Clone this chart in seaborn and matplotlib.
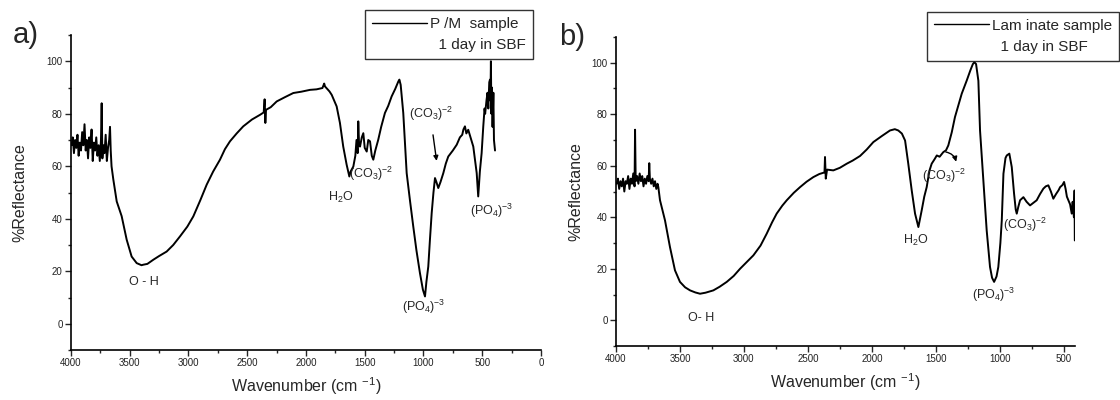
import matplotlib
matplotlib.use("Agg")
import matplotlib.pyplot as plt
from matplotlib.lines import Line2D
import seaborn as sns

# ── data ───────────────────────────────────────────────────────────────

PM_WN = [3995, 3985, 3975, 3965, 3955, 3945, 3935, 3925, 3915, 3905, 3895, 3885, 3875, 3865,
         3855, 3845, 3835, 3825, 3815, 3805, 3795, 3785, 3775, 3765, 3755, 3745, 3739, 3733,
         3725, 3715, 3705, 3695, 3685, 3675, 3668, 3662, 3655, 3640, 3611, 3569, 3526, 3484,
         3441, 3400, 3384, 3350, 3299, 3250, 3186, 3130, 3072, 3010, 2959, 2900, 2845, 2790,
         2732, 2690, 2647, 2590, 2534, 2460, 2391, 2360, 2352, 2346, 2340, 2300, 2249, 2180,
         2108, 2040, 1966, 1910, 1860, 1845, 1838, 1820, 1800, 1781, 1760, 1739, 1711, 1683,
         1654, 1631, 1620, 1597, 1580, 1570, 1560, 1555, 1548, 1540, 1525, 1512, 1500, 1483,
         1470, 1455, 1440, 1427, 1410, 1385, 1360, 1328, 1300, 1271, 1240, 1214, 1205, 1194,
         1172, 1143, 1115, 1087, 1060, 1030, 1005, 987, 975, 959, 945, 930, 915, 902, 890, 874,
         855, 831, 810, 789, 750, 717, 690, 670, 660, 647, 635, 619, 600, 576, 560, 547, 534,
         520, 505, 491, 480, 475, 463, 455, 448, 440, 434, 430, 426, 422, 418, 412, 405, 400,
         391]
PM_REFL = [68, 71, 65, 70, 67, 72, 64, 69, 66, 73, 68, 76, 66, 70,
           63, 71, 67, 74, 62, 69, 66, 71, 64, 68, 62, 70, 84, 63,
           68, 65, 72, 62, 67, 70, 75, 66, 60, 55, 46.6, 41, 32, 25.6,
           23.1, 22.3, 22.5, 22.8, 24.4, 25.8, 27.5, 30, 33.3, 37, 40.9, 47, 53, 58,
           62.5, 66.5, 69.5, 72.5, 75.2, 77.8, 79.6, 80.5, 85.5, 76.5, 81.5, 82.5, 84.7, 86.3,
           87.9, 88.4, 89.1, 89.3, 89.8, 91.5, 90.4, 89.5, 88.5, 87.2, 85, 82.8, 76.5, 67.5,
           60.6, 56.1, 58, 59.9, 64, 70, 65, 77.1, 68, 67.5, 71, 72.6, 67, 65.6,
           70, 69.5, 64, 62.5, 66, 70.1, 75, 80.3, 83, 86.6, 89.5, 92.3, 93, 91,
           80.3, 57.4, 47, 37.1, 28, 19.3, 13, 10.4, 16, 21.8, 32, 42.2, 50, 55.5, 54, 51.7,
           54, 57.4, 61, 63.7, 66, 68.2, 71, 72, 74, 75.2, 72.5, 73.9, 71, 67.5, 62, 57.4, 48.5,
           58, 65, 75.2, 82, 80, 85.3, 88, 82, 92, 93, 85, 100, 80, 90, 75, 88, 70,
           66]

LAM_WN = [3995, 3985, 3975, 3965, 3955, 3945, 3935, 3925, 3915, 3905, 3895, 3885, 3875, 3865,
          3855, 3851, 3846, 3835, 3825, 3815, 3805, 3795, 3785, 3775, 3765, 3755, 3745, 3740,
          3735, 3725, 3715, 3705, 3695, 3685, 3675, 3669, 3656, 3617, 3578, 3539, 3500, 3460,
          3421, 3380, 3343, 3300, 3239, 3190, 3134, 3080, 3030, 2980, 2926, 2870, 2822, 2780,
          2744, 2700, 2665, 2610, 2561, 2510, 2457, 2410, 2370, 2366, 2360, 2350, 2301, 2250,
          2196, 2150, 2092, 2040, 1988, 1920, 1858, 1820, 1793, 1765, 1740, 1715, 1688, 1662,
          1636, 1610, 1590, 1571, 1550, 1532, 1510, 1492, 1470, 1441, 1420, 1402, 1375, 1350,
          1320, 1297, 1258, 1230, 1210, 1198, 1185, 1167, 1154, 1128, 1102, 1076, 1060, 1044,
          1025, 1011, 995, 984, 971, 955, 945, 925, 915, 906, 888, 875, 867, 855, 841, 815,
          790, 763, 740, 711, 685, 659, 640, 620, 600, 581, 560, 540, 528, 510, 497, 485, 475,
          463, 450, 437, 430, 420, 415, 413]
LAM_REFL = [53, 55, 51, 54, 52, 55, 50, 54, 53, 56, 51, 55, 53, 57,
            52, 74, 54, 56, 53, 57, 54, 56, 52, 55, 53, 56, 54, 61,
            55, 53, 55, 52, 54, 51, 53, 51.7, 46.6, 38.8, 28.4, 19.4, 14.9, 12.8,
            11.6, 10.8, 10.3, 10.7, 11.6, 13, 14.9, 17.2, 20, 22.5, 25.2, 29, 33.6, 38,
            41.4, 44.5, 46.6, 49.5, 51.7, 53.8, 55.6, 56.8, 57.4, 63.4, 55, 58.5, 58.2, 59.2,
            60.8, 62, 63.8, 66.3, 69.2, 71.6, 73.7, 74.2, 73.7, 72.5, 69.8, 60.8, 50.4, 41.4,
            36.2, 42.7, 48, 51.7, 58, 60.8, 62.5, 64, 63.5, 65.3, 66, 67.9, 73, 78.9,
            84, 88, 93.1, 97, 99.5, 100.2, 99.5, 93, 73.7, 54.3, 34.9, 20.7, 16.5, 14.9,
            17, 20.7, 30, 38.8, 56.9, 63, 64, 64.7, 62, 59.5, 49.2, 43, 41.4, 44, 46.6, 47.8,
            46, 44.6, 45.5, 46.6, 49, 51.1, 52, 52.4, 50, 47.2, 49, 50.5, 51.7, 52.5, 53.7, 51, 48,
            46.6, 45, 41.4, 46, 40, 50.4, 31]

PANELS = ["a)", "b)"]
SAMPLES = ["P /M  sample", "Lam inate sample"]
SOAK = "1 day in SBF"
X_LABEL = "Wavenumber (cm $^{-1}$)"
Y_LABEL = "%Reflectance"

PM_NOTES = [("O - H", 3379, 16), ("H$_2$O", 1702, 48), ("(CO$_3$)$^{-2}$", 1630, 57),
            ("(CO$_3$)$^{-2}$", 1125, 80), ("(PO$_4$)$^{-3}$", 1180, 6.5), ("(PO$_4$)$^{-3}$", 600, 43)]
LAM_NOTES = [("O- H", 3336, 1), ("H$_2$O", 1654, 31), ("(CO$_3$)$^{-2}$", 1605, 56),
             ("(PO$_4$)$^{-3}$", 1219, 10), ("(CO$_3$)$^{-2}$", 978, 37)]

sns.set_style("ticks")
plt.rcParams["font.family"] = ["Liberation Sans", "DejaVu Sans"]
plt.rcParams["mathtext.fontset"] = "custom"
plt.rcParams["mathtext.rm"] = "Liberation Sans"
plt.rcParams["mathtext.it"] = "Liberation Sans"
plt.rcParams["mathtext.default"] = "regular"

fig = plt.figure(figsize=(11.2, 4), dpi=100)
ax_a = fig.add_axes([0.0634, 0.125, 0.4196, 0.7875])
ax_b = fig.add_axes([0.55, 0.135, 0.41, 0.7725])


def style_axis(ax, xlim, xticks, ypad):
    ax.set_xlim(*xlim)
    ax.set_ylim(-10, 110)
    ax.set_xticks(xticks)
    ax.set_xticks(range(4000, int(min(xlim)) - 1, -250), minor=True)
    ax.set_yticks(range(0, 101, 20))
    ax.set_yticks(range(-10, 111, 10), minor=True)
    ax.tick_params(axis="both", which="major", direction="out", length=4, width=1,
                   labelsize=7, labelcolor="#222222", pad=2)
    ax.tick_params(axis="both", which="minor", direction="out", length=2.5, width=1)
    for side in ("left", "bottom"):
        ax.spines[side].set_linewidth(1.2)
        ax.spines[side].set_color("black")
    sns.despine(ax=ax)
    ax.set_xlabel(X_LABEL, fontsize=11.5, labelpad=5)
    ax.set_ylabel(Y_LABEL, fontsize=11.5, labelpad=ypad)


for ax, wn, refl, panel, sample, notes, xlim, xticks, ypad, anchor in [
    (ax_a, PM_WN, PM_REFL, PANELS[0], SAMPLES[0], PM_NOTES, (4000, 0),
     range(4000, -1, -500), 14, (0.983, 1.079)),
    (ax_b, LAM_WN, LAM_REFL, PANELS[1], SAMPLES[1], LAM_NOTES, (4000, 410),
     range(4000, 499, -500), 6, (1.096, 1.081)),
]:
    sns.lineplot(x=wn, y=refl, ax=ax, color="black", lw=1.4, estimator=None)
    style_axis(ax, xlim, xticks, ypad)
    for txt, x, y in notes:
        ax.text(x, y, txt, fontsize=9, ha="left" if txt.startswith("(") else "center",
                va="center")
    ax.text(-0.125, 1.0, panel, transform=ax.transAxes, fontsize=21, ha="left", va="center")
    handles = [Line2D([], [], color="black", lw=1), Line2D([], [], lw=0)]
    leg = ax.legend(handles, [sample, "  " + SOAK], loc="upper right", bbox_to_anchor=anchor,
                    frameon=True, fancybox=False, edgecolor="black", fontsize=11,
                    handlelength=3.6, handletextpad=0.2, borderpad=0.45, labelspacing=0.45,
                    borderaxespad=0)
    leg.get_frame().set_linewidth(1.0)

ax_a.annotate("", xy=(885, 61), xytext=(922, 73),
              arrowprops=dict(arrowstyle="-|>", color="black", lw=1, mutation_scale=7))
ax_b.annotate("", xy=(1336, 60.5), xytext=(1443, 65.5),
              arrowprops=dict(arrowstyle="-|>", color="black", lw=1, mutation_scale=7,
                              connectionstyle="arc3,rad=-0.4"))

fig.savefig("out.png", dpi=100)
